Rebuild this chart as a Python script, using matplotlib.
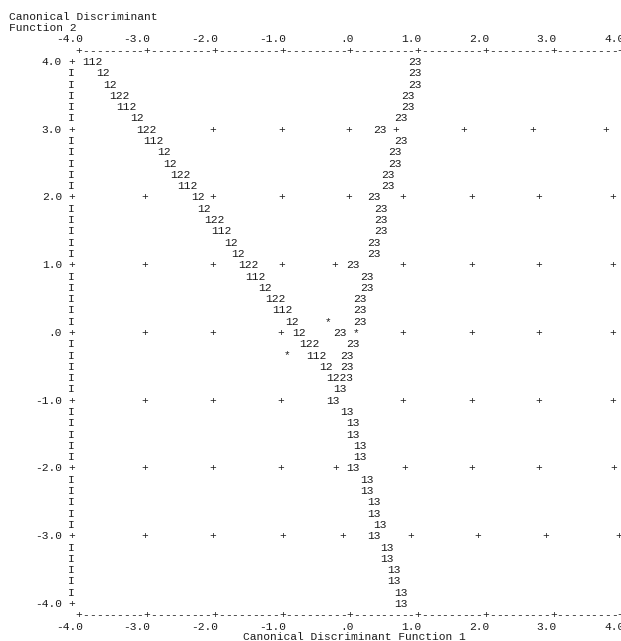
import matplotlib
matplotlib.use("Agg")
import matplotlib.pyplot as plt
import numpy as np

# ---------------- text / ticks ----------------
title_y_lines = ["Canonical Discriminant", "Function 2"]
title_x = "Canonical Discriminant Function 1"
tick_values = [-4, -3, -2, -1, 0, 1, 2, 3, 4]
tick_labels = ["-4.0", "-3.0", "-2.0", "-1.0", ".0", "1.0", "2.0", "3.0", "4.0"]

# ---------------- territorial map data ----------------
# map row r lies at Function 2 = 4 - r/6
rows_12 = list(range(0, 29))
labels_12 = ["112", "12", "12", "122", "112", "12", "122", "112", "12", "12",
             "122", "112", "12", "12", "122", "112", "12", "12", "122", "112",
             "12", "122", "112", "12", "12", "122", "112", "12", "1223"]
x_12 = [-3.95, -3.75, -3.65, -3.55, -3.45, -3.25, -3.15, -3.05, -2.85, -2.75,
        -2.65, -2.55, -2.35, -2.25, -2.15, -2.05, -1.85, -1.75, -1.65, -1.55,
        -1.35, -1.25, -1.15, -0.95, -0.85, -0.75, -0.65, -0.45, -0.35]

rows_23 = list(range(0, 28))
x_23 = [0.86, 0.86, 0.86, 0.75, 0.75, 0.65, 0.34, 0.65, 0.56, 0.56,
        0.46, 0.46, 0.26, 0.35, 0.35, 0.35, 0.26, 0.26, -0.06, 0.15,
        0.15, 0.05, 0.05, 0.05, -0.255, -0.06, -0.15, -0.15]

rows_13 = list(range(29, 49))
x_13 = [-0.255, -0.35, -0.15, -0.06, -0.06, 0.05, 0.05, -0.06, 0.15, 0.15,
        0.25, 0.25, 0.34, 0.25, 0.45, 0.45, 0.55, 0.55, 0.65, 0.65]

# grid "+" marks inside the map, per integer row value
grid_plus = {
    3: [-2.02, -1.01, -0.015, 0.68, 1.68, 2.69, 3.78],
    2: [-3.03, -2.02, -1.01, -0.015, 0.78, 1.79, 2.78, 3.88],
    1: [-3.03, -2.02, -1.01, -0.22, 0.78, 1.79, 2.78, 3.88],
    0: [-3.03, -2.02, -1.02, 0.78, 1.79, 2.78, 3.88],
    -1: [-3.03, -2.02, -1.02, 0.78, 1.79, 2.78, 3.88],
    -2: [-3.03, -2.02, -1.02, -0.21, 0.81, 1.80, 2.78, 3.89],
    -3: [-3.03, -2.02, -1.00, -0.11, 0.89, 1.88, 2.89, 3.96],
}

# group centroids (*)
centroid_x = [-0.325, 0.084, -0.925]
centroid_y = [0.167, 0.0, -0.333]

# ---------------- figure ----------------
PX = 67.75  # pixels per unit
fig = plt.figure(figsize=(6.21, 6.41), dpi=100)
fig.patch.set_facecolor("white")
ax = fig.add_axes([0, 0, 1, 1])
ax.set_xlim(-4 - 79 / PX, -4 + (621 - 79) / PX)
ax.set_ylim(4 - (641 - 62) / PX, 4 + 62 / PX)
ax.axis("off")

FS = 8.13
FONT = "Liberation Mono"
COL = "#1c1c1c"
kw = dict(fontsize=FS, family=FONT, color=COL, va="center", clip_on=False)


def row_y(r):
    return 4 - r / 6.0


# titles
ax.text(-5.04, row_y(-4), title_y_lines[0], ha="left", **kw)
ax.text(-5.04, row_y(-3), title_y_lines[1], ha="left", **kw)
ax.text(-1.58, row_y(50.9), title_x, ha="left", **kw)

# tick labels top and bottom
for v, lab in zip(tick_values, tick_labels):
    ax.text(v + 0.055, row_y(-2), lab, ha="right", **kw)
    ax.text(v + 0.055, row_y(50), lab, ha="right", **kw)

# top and bottom frame made of + and -
for k in range(81):
    xv = -4 + 0.1 * k
    ch = "+" if k % 10 == 0 else "-"
    ax.text(xv, row_y(-1), ch, ha="center", **kw)
    ax.text(xv, row_y(49), ch, ha="center", **kw)

# left axis
for r in range(49):
    yv = row_y(r)
    if r % 6 == 0:
        ax.text(-4.115, yv, "+", ha="center", **kw)
        ax.text(-4.25, yv, tick_labels[::-1][r // 6], ha="right", **kw)
    else:
        ax.text(-4.115, yv, "I", ha="center", **kw)

# grid plus signs
for yv, xs in grid_plus.items():
    for xv in xs:
        ax.text(xv, yv, "+", ha="center", **kw)

# boundaries
for r, xv, lab in zip(rows_12, x_12, labels_12):
    ax.text(xv, row_y(r), lab, ha="left", **kw)
for r, xv in zip(rows_23, x_23):
    ax.text(xv, row_y(r), "23", ha="left", **kw)
for r, xv in zip(rows_13, x_13):
    ax.text(xv, row_y(r), "13", ha="left", **kw)

# centroids
for xv, yv in zip(centroid_x, centroid_y):
    ax.text(xv, yv, "*", ha="center", **kw)

fig.savefig("out.png", dpi=100, facecolor="white")
